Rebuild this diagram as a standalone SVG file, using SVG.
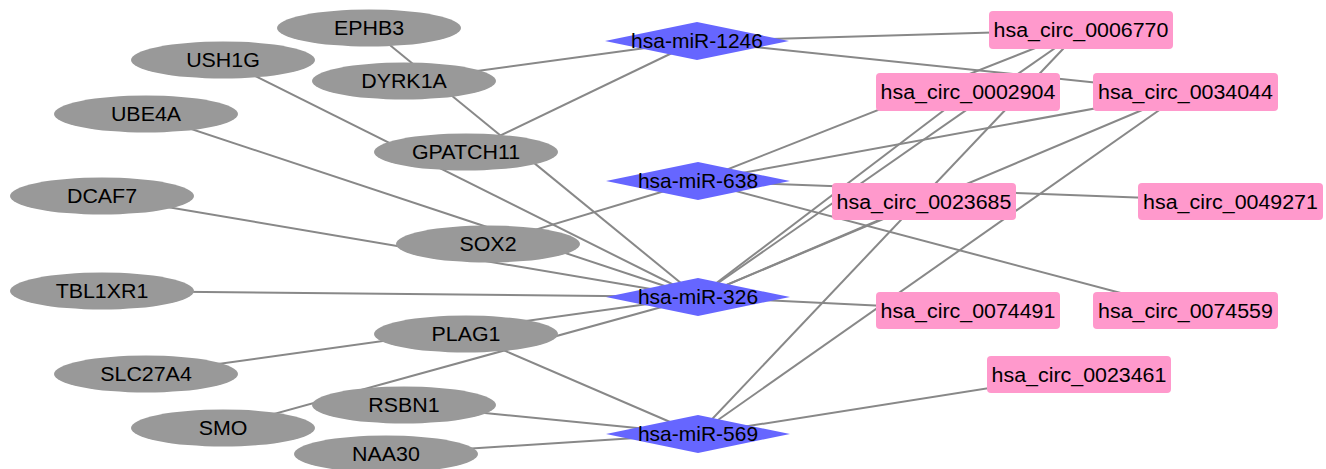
<svg xmlns="http://www.w3.org/2000/svg" width="1326" height="469" viewBox="0 0 1326 469">
<style>
.bg{fill:#ffffff}
.e line{stroke:#888888;stroke-width:2}
.gene ellipse{fill:#999999}
.mir polygon{fill:#6666ff}
.circ rect{fill:#ff99cc}
text{font-family:"Liberation Sans",Arial,sans-serif;font-size:20px;fill:#000000;text-anchor:middle}
.mir text{font-size:21px}
</style>
<rect class="bg" x="0" y="0" width="1326" height="469"/>
<g id="edges" class="e">
<line x1="369" y1="28" x2="698" y2="297"/>
<line x1="223" y1="60" x2="698" y2="297"/>
<line x1="146" y1="114" x2="698" y2="297"/>
<line x1="102" y1="196" x2="698" y2="297"/>
<line x1="102" y1="291" x2="698" y2="297"/>
<line x1="146" y1="374" x2="698" y2="297"/>
<line x1="223" y1="428" x2="698" y2="297"/>
<line x1="404" y1="81" x2="697" y2="41"/>
<line x1="466" y1="152" x2="697" y2="41"/>
<line x1="488" y1="244" x2="698" y2="181"/>
<line x1="466" y1="334" x2="698" y2="434"/>
<line x1="404" y1="405" x2="698" y2="434"/>
<line x1="386" y1="454" x2="698" y2="434"/>
<line x1="697" y1="41" x2="1081" y2="30"/>
<line x1="697" y1="41" x2="1185" y2="92"/>
<line x1="698" y1="181" x2="1081" y2="30"/>
<line x1="698" y1="181" x2="1185" y2="92"/>
<line x1="698" y1="181" x2="1230" y2="201"/>
<line x1="698" y1="181" x2="1185" y2="310"/>
<line x1="698" y1="297" x2="1081" y2="30"/>
<line x1="698" y1="297" x2="968" y2="92"/>
<line x1="698" y1="297" x2="1185" y2="92"/>
<line x1="698" y1="297" x2="924" y2="201"/>
<line x1="698" y1="297" x2="968" y2="310"/>
<line x1="698" y1="434" x2="1081" y2="30"/>
<line x1="698" y1="434" x2="1185" y2="92"/>
<line x1="698" y1="434" x2="1079" y2="374"/>
</g>
<g class="gene">
<g id="EPHB3"><ellipse cx="369" cy="28" rx="92" ry="18.5"/><text transform="matrix(1.07 0 0 1 369 35)">EPHB3</text></g>
<g id="USH1G"><ellipse cx="223" cy="60" rx="92" ry="18.5"/><text transform="matrix(1.07 0 0 1 223 67)">USH1G</text></g>
<g id="DYRK1A"><ellipse cx="404" cy="81" rx="92" ry="18.5"/><text transform="matrix(1.07 0 0 1 404 88)">DYRK1A</text></g>
<g id="UBE4A"><ellipse cx="146" cy="114" rx="92" ry="18.5"/><text transform="matrix(1.07 0 0 1 146 121)">UBE4A</text></g>
<g id="GPATCH11"><ellipse cx="466" cy="152" rx="92" ry="18.5"/><text transform="matrix(1.07 0 0 1 466 159)">GPATCH11</text></g>
<g id="DCAF7"><ellipse cx="102" cy="196" rx="92" ry="18.5"/><text transform="matrix(1.07 0 0 1 102 203)">DCAF7</text></g>
<g id="SOX2"><ellipse cx="488" cy="244" rx="92" ry="18.5"/><text transform="matrix(1.07 0 0 1 488 251)">SOX2</text></g>
<g id="TBL1XR1"><ellipse cx="102" cy="291" rx="92" ry="18.5"/><text transform="matrix(1.07 0 0 1 102 298)">TBL1XR1</text></g>
<g id="PLAG1"><ellipse cx="466" cy="334" rx="92" ry="18.5"/><text transform="matrix(1.07 0 0 1 466 341)">PLAG1</text></g>
<g id="SLC27A4"><ellipse cx="146" cy="374" rx="92" ry="18.5"/><text transform="matrix(1.07 0 0 1 146 381)">SLC27A4</text></g>
<g id="RSBN1"><ellipse cx="404" cy="405" rx="92" ry="18.5"/><text transform="matrix(1.07 0 0 1 404 412)">RSBN1</text></g>
<g id="SMO"><ellipse cx="223" cy="428" rx="92" ry="18.5"/><text transform="matrix(1.07 0 0 1 223 435)">SMO</text></g>
<g id="NAA30"><ellipse cx="386" cy="454" rx="92" ry="18.5"/><text transform="matrix(1.07 0 0 1 386 461)">NAA30</text></g>
</g>
<g class="mir">
<g id="hsa-miR-1246"><polygon points="605,41 697,22 789,41 697,60"/><text x="697" y="48">hsa-miR-1246</text></g>
<g id="hsa-miR-638"><polygon points="606,181 698,162 790,181 698,200"/><text x="698" y="188">hsa-miR-638</text></g>
<g id="hsa-miR-326"><polygon points="606,297 698,278 790,297 698,316"/><text x="698" y="304">hsa-miR-326</text></g>
<g id="hsa-miR-569"><polygon points="606,434 698,415 790,434 698,453"/><text x="698" y="441">hsa-miR-569</text></g>
</g>
<g class="circ">
<g id="hsa_circ_0006770"><rect x="989" y="11" width="184" height="38" rx="4"/><text transform="matrix(1.07 0 0 1 1081 37)">hsa_circ_0006770</text></g>
<g id="hsa_circ_0002904"><rect x="876" y="73" width="184" height="38" rx="4"/><text transform="matrix(1.07 0 0 1 968 99)">hsa_circ_0002904</text></g>
<g id="hsa_circ_0034044"><rect x="1093" y="73" width="185" height="38" rx="4"/><text transform="matrix(1.07 0 0 1 1185.5 99)">hsa_circ_0034044</text></g>
<g id="hsa_circ_0023685"><rect x="832" y="183" width="184" height="37" rx="4"/><text transform="matrix(1.07 0 0 1 924 208.5)">hsa_circ_0023685</text></g>
<g id="hsa_circ_0049271"><rect x="1138" y="183" width="185" height="37" rx="4"/><text transform="matrix(1.07 0 0 1 1230.5 208.5)">hsa_circ_0049271</text></g>
<g id="hsa_circ_0074491"><rect x="876" y="292" width="184" height="37" rx="4"/><text transform="matrix(1.07 0 0 1 968 317.5)">hsa_circ_0074491</text></g>
<g id="hsa_circ_0074559"><rect x="1093" y="292" width="185" height="37" rx="4"/><text transform="matrix(1.07 0 0 1 1185.5 317.5)">hsa_circ_0074559</text></g>
<g id="hsa_circ_0023461"><rect x="987" y="356" width="184" height="37" rx="4"/><text transform="matrix(1.07 0 0 1 1079 381.5)">hsa_circ_0023461</text></g>
</g>
</svg>
